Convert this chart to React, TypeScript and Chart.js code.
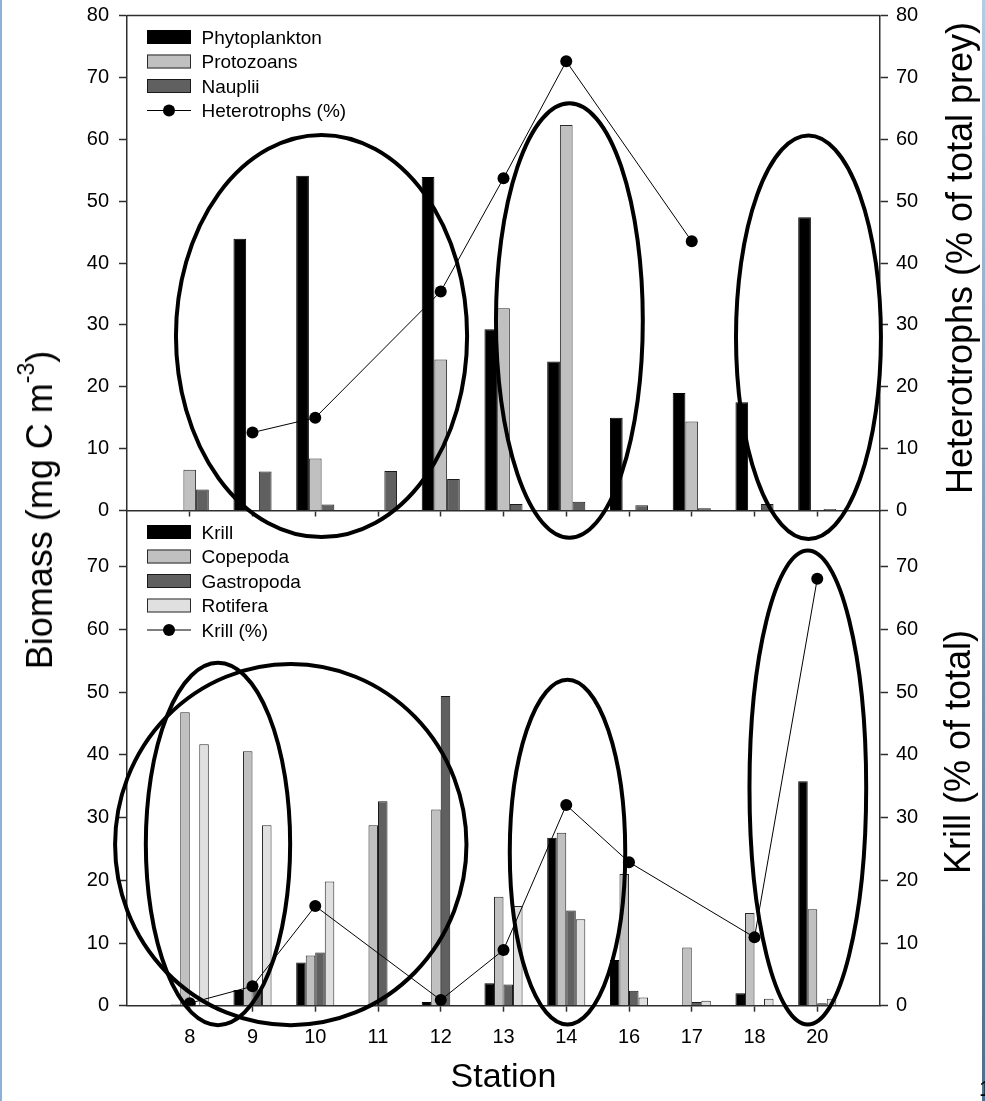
import React, { useEffect, useRef } from 'react';
import { Chart, registerables } from 'chart.js';

Chart.register(...registerables);

const FONT = '"Liberation Sans", Arial, Helvetica, sans-serif';
const AX = '#2e2e2e';

// ---------- data ----------
const stations = ['8', '9', '10', '11', '12', '13', '14', '16', '17', '18', '20'];

const phytoplankton = [null, 43.9, 54.1, null, 53.9, 29.3, 24.1, 15.0, 19.0, 17.5, 47.4];
const protozoans = [6.6, null, 8.4, null, 24.4, 32.7, 62.3, null, 14.4, null, null];
const nauplii = [3.4, 6.3, 0.95, 6.4, 5.1, 1.05, 1.4, 0.85, 0.35, 1.05, 0.25];
const heterotrophsPct = [null, 12.6, 15.0, null, 35.4, 53.7, 72.6, null, 43.5, null, null];

const krill = [0.2, 2.5, 6.9, null, 0.6, 3.6, 26.8, 7.3, null, 2.0, 35.8];
const copepoda = [46.8, 40.6, 8.0, 28.8, 31.3, 17.4, 27.6, 21.0, 9.3, 14.8, 15.4];
const gastropoda = [null, 2.6, 8.5, 32.6, 49.4, 3.4, 15.2, 2.4, 0.6, null, 0.4];
const rotifera = [41.7, 28.8, 19.8, null, null, 15.9, 13.8, 1.3, 0.8, 1.1, 1.1];
const krillPct = [0.4, 3.1, 15.9, null, 0.9, 8.9, 32.0, 22.9, null, 10.9, 68.1];

const topTicks = [0, 10, 20, 30, 40, 50, 60, 70, 80];
const bottomTicks = [0, 10, 20, 30, 40, 50, 60, 70];

// highlight ellipses, in station-index / value units
const topHighlights = [
  { station: 2.1, value: 28.2, halfWidth: 2.32, halfHeight: 32.5 },
  { station: 6.05, value: 30.7, halfWidth: 1.17, halfHeight: 35.1 },
  { station: 9.86, value: 28.0, halfWidth: 1.155, halfHeight: 32.6 },
];
const bottomHighlights = [
  { station: 0.45, value: 25.8, halfWidth: 1.15, halfHeight: 28.9 },
  { station: 1.61, value: 25.7, halfWidth: 2.8, halfHeight: 28.8 },
  { station: 6.02, value: 24.5, halfWidth: 0.92, halfHeight: 27.5 },
  { station: 9.85, value: 34.8, halfWidth: 0.93, halfHeight: 37.8 },
];

// ---------- helpers ----------
const xLabels = ['', ...stations, ''];
const pad = (a: (number | null)[]) => [null, ...a, null];

function ellipsePlugin(items: any[]) {
  return {
    id: 'highlightEllipses',
    afterDatasetsDraw(chart: any) {
      const xs = chart.scales.x;
      const ys = chart.scales.y;
      const ctx = chart.ctx;
      ctx.save();
      ctx.lineWidth = 4;
      ctx.strokeStyle = '#000';
      for (const e of items) {
        const cx = xs.getPixelForValue(e.station + 1);
        const cy = ys.getPixelForValue(e.value);
        const rx = Math.abs(xs.getPixelForValue(e.station + 1 + e.halfWidth) - cx);
        const ry = Math.abs(ys.getPixelForValue(e.value + e.halfHeight) - cy);
        ctx.beginPath();
        ctx.ellipse(cx, cy, rx, ry, 0, 0, Math.PI * 2);
        ctx.stroke();
      }
      ctx.restore();
    },
  };
}

const legendPlugin = {
  id: 'panelLegend',
  afterDraw(chart: any) {
    const { ctx, chartArea } = chart;
    const x0 = chartArea.left + 20;
    let y = chartArea.top + 21.5;
    ctx.save();
    ctx.font = `19px ${FONT}`;
    ctx.textBaseline = 'middle';
    ctx.textAlign = 'left';
    for (const ds of chart.data.datasets) {
      if (ds.type === 'line') {
        ctx.strokeStyle = ds.borderColor;
        ctx.lineWidth = 1;
        ctx.beginPath();
        ctx.moveTo(x0, y);
        ctx.lineTo(x0 + 44, y);
        ctx.stroke();
        ctx.fillStyle = ds.pointBackgroundColor;
        ctx.beginPath();
        ctx.arc(x0 + 22, y, 6, 0, Math.PI * 2);
        ctx.fill();
      } else {
        ctx.fillStyle = ds.backgroundColor;
        ctx.fillRect(x0, y - 7, 44, 14);
        ctx.strokeStyle = ds.borderColor;
        ctx.lineWidth = 1;
        ctx.strokeRect(x0 + 0.5, y - 6.5, 43, 13);
      }
      ctx.fillStyle = '#000';
      ctx.fillText(ds.label, x0 + 54.5, y + 1.5);
      y += 24.5;
    }
    ctx.restore();
  },
};

const topFramePlugin = {
  id: 'topFrame',
  afterDraw(chart: any) {
    const { ctx, chartArea } = chart;
    ctx.save();
    ctx.strokeStyle = AX;
    ctx.lineWidth = 1.5;
    ctx.beginPath();
    ctx.moveTo(chartArea.left, chartArea.top);
    ctx.lineTo(chartArea.right, chartArea.top);
    ctx.stroke();
    ctx.restore();
  },
};

const edgeTick = (c: any) =>
  c.index === 0 || c.index === xLabels.length - 1 ? 'rgba(0,0,0,0)' : AX;

function xScale(showLabels: boolean) {
  return {
    type: 'category',
    offset: false,
    grid: {
      display: true,
      offset: false,
      drawOnChartArea: false,
      drawTicks: true,
      tickLength: 6,
      tickWidth: 1.5,
      tickColor: edgeTick,
    },
    border: { display: true, color: AX, width: 1.5 },
    ticks: {
      display: showLabels,
      autoSkip: false,
      maxRotation: 0,
      padding: 14,
      color: '#000',
      font: { family: FONT, size: 20 },
    },
    title: showLabels
      ? {
          display: true,
          text: 'Station',
          color: '#000',
          font: { family: FONT, size: 34 },
          padding: { top: 0, bottom: 3 },
        }
      : { display: false },
    afterFit: (s: any) => {
      s.height = showLabels ? 95.3 : 0;
      s.paddingLeft = 0;
      s.paddingRight = 0;
    },
  };
}

function yScale(position: string, max: number, tickVals: number[], width: number) {
  return {
    type: 'linear',
    position,
    min: 0,
    max,
    afterBuildTicks: (s: any) => {
      s.ticks = tickVals.map((v) => ({ value: v }));
    },
    grid: {
      display: true,
      drawOnChartArea: false,
      drawTicks: true,
      tickLength: 8,
      tickWidth: 1.5,
      tickColor: AX,
    },
    border: { display: true, color: AX, width: 1.5 },
    ticks: {
      color: '#000',
      padding: position === 'left' ? 10 : 8,
      font: { family: FONT, size: 20 },
    },
    afterFit: (s: any) => {
      s.width = width;
      s.paddingTop = 0;
      s.paddingBottom = 0;
    },
  };
}

function barDs(label: string, data: (number | null)[], bg: string, border: string) {
  return {
    type: 'bar',
    label,
    data: pad(data),
    backgroundColor: bg,
    borderColor: border,
    borderWidth: 1,
    yAxisID: 'y',
    order: 1,
  };
}

function lineDs(label: string, data: (number | null)[]) {
  return {
    type: 'line',
    label,
    data: pad(data),
    yAxisID: 'y2',
    borderColor: '#000',
    borderWidth: 1,
    pointRadius: 6,
    pointBackgroundColor: '#000',
    pointBorderColor: '#000',
    pointBorderWidth: 0,
    spanGaps: true,
    fill: false,
    tension: 0,
    order: 0,
  };
}

const rotStyle = (x: number, y: number): React.CSSProperties => ({
  position: 'absolute',
  left: x,
  top: y,
  transform: 'translate(-50%, -50%) rotate(-90deg)',
  whiteSpace: 'nowrap',
  fontSize: 36,
  lineHeight: '36px',
  color: '#000',
  fontFamily: FONT,
});

export default function App() {
  const topRef = useRef<HTMLCanvasElement>(null);
  const bottomRef = useRef<HTMLCanvasElement>(null);

  useEffect(() => {
    Chart.defaults.font.family = FONT;

    const top = new Chart(topRef.current as any, {
      type: 'bar',
      data: {
        labels: xLabels,
        datasets: [
          barDs('Phytoplankton', phytoplankton, '#000000', '#000000'),
          barDs('Protozoans', protozoans, '#c0c0c0', '#2a2a2a'),
          barDs('Nauplii', nauplii, '#606060', '#1a1a1a'),
          lineDs('Heterotrophs (%)', heterotrophsPct),
        ] as any,
      },
      options: {
        responsive: false,
        animation: false,
        devicePixelRatio: 1,
        layout: { padding: { top: 15.5, bottom: 590.5, left: 0, right: 0 } },
        datasets: { bar: { categoryPercentage: 0.607, barPercentage: 1 } },
        plugins: { legend: { display: false }, tooltip: { enabled: false } },
        scales: {
          x: xScale(false),
          y: yScale('left', 80, topTicks, 127),
          y2: yScale('right', 80, topTicks, 105),
        } as any,
      },
      plugins: [ellipsePlugin(topHighlights), legendPlugin, topFramePlugin],
    } as any);

    const bottom = new Chart(bottomRef.current as any, {
      type: 'bar',
      data: {
        labels: xLabels,
        datasets: [
          barDs('Krill', krill, '#000000', '#000000'),
          barDs('Copepoda', copepoda, '#c0c0c0', '#2a2a2a'),
          barDs('Gastropoda', gastropoda, '#606060', '#1a1a1a'),
          barDs('Rotifera', rotifera, '#e0e0e0', '#2a2a2a'),
          lineDs('Krill (%)', krillPct),
        ] as any,
      },
      options: {
        responsive: false,
        animation: false,
        devicePixelRatio: 1,
        layout: { padding: { top: 510.5, bottom: 0, left: 0, right: 0 } },
        datasets: { bar: { categoryPercentage: 0.607, barPercentage: 1 } },
        plugins: { legend: { display: false }, tooltip: { enabled: false } },
        scales: {
          x: xScale(true),
          y: yScale('left', 79, bottomTicks, 127),
          y2: yScale('right', 79, bottomTicks, 105),
        } as any,
      },
      plugins: [ellipsePlugin(bottomHighlights), legendPlugin],
    } as any);

    return () => {
      top.destroy();
      bottom.destroy();
    };
  }, []);

  return (
    <div
      style={{
        position: 'absolute',
        left: 0,
        top: 0,
        width: 985,
        height: 1101,
        overflow: 'hidden',
        background: '#fff',
        fontFamily: FONT,
      }}
    >
      <canvas ref={bottomRef} width={985} height={1101} style={{ position: 'absolute', left: 0, top: 0 }} />
      <canvas ref={topRef} width={985} height={1101} style={{ position: 'absolute', left: 0, top: 0 }} />
      <div style={rotStyle(41.5, 510)}>
        Biomass (mg C m
        <span style={{ fontSize: 23, position: 'relative', top: -18 }}>-3</span>)
      </div>
      <div style={rotStyle(960, 258)}>Heterotrophs (% of total prey)</div>
      <div style={rotStyle(958, 752)}>Krill (% of total)</div>
      <div style={{ position: 'absolute', left: 0, top: 0, width: 2, height: 1101, background: '#8db0d8' }} />
      <div
        style={{
          position: 'absolute',
          left: 982,
          top: 0,
          width: 3,
          height: 1101,
          background: 'linear-gradient(#b4cbe4, #4f6d8c)',
        }}
      />
      <span style={{ position: 'absolute', left: 979, top: 1076, fontSize: 22, color: '#000' }}>1</span>
    </div>
  );
}
